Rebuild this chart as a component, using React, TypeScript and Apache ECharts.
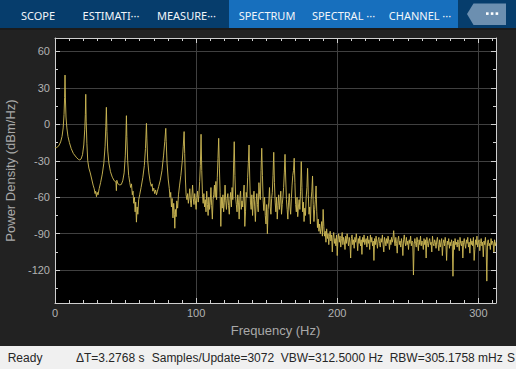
import React, { useEffect, useRef } from "react";
import * as echarts from "echarts";

// ---------- data ----------
const xMajorTicks = [0, 100, 200, 300];
const xMinorTicks = [10, 20, 30, 40, 50, 60, 70, 80, 90, 110, 120, 130, 140, 150, 160, 170, 180, 190, 210, 220, 230, 240, 250, 260, 270, 280, 290, 310];
const yMajorTicks = [-120, -90, -60, -30, 0, 30, 60];
const yMinorTicks = [-135, -105, -75, -45, -15, 15, 45];

const tabLabels = ["SCOPE", "ESTIMATI···", "MEASURE···", "SPECTRUM", "SPECTRAL ···", "CHANNEL ···"];
const statusItems = ["Ready", "ΔT=3.2768 s", "Samples/Update=3072", "VBW=312.5000 Hz", "RBW=305.1758 mHz", "S"];

// Harmonic region, irregular frequency points [Hz, dBm/Hz]
const harmonicPoints: [number, number][] = [
  [0, -19], [1, -19.2], [2, -18.5], [3, -17], [4, -14.5], [5, -10], [5.8, -3], [6.4, 8], [6.8, 22], [7.1, 40.5],
  [7.4, 20], [7.8, 6], [8.4, -3], [9.2, -10], [10.2, -15], [11.5, -20], [13, -24], [15, -27], [16.5, -28.8], [17.5, -29.3],
  [18.5, -28.5], [19.5, -25], [20.4, -17], [21.1, -4], [21.5, 8], [21.8, 24.7], [22.1, 2], [22.6, -16], [23.2, -30], [24, -36],
  [25, -40], [26, -45], [27, -50], [27.8, -53], [28.4, -57], [28.8, -55], [29.4, -59.5], [29.9, -56], [30.5, -58], [31.3, -53],
  [32.3, -48], [33.5, -41], [34.6, -32], [35.5, -18], [36, -2], [36.4, 14], [36.8, -6], [37.4, -22], [38.2, -32], [39.3, -39],
  [40.6, -43.5], [42, -46.5], [43.2, -47.5], [43.5, -54.6], [43.8, -46], [44.6, -49], [45.9, -49.9], [47, -49.5], [48, -46.5], [49, -40],
  [49.8, -26], [50.3, -8], [50.6, 7.1], [50.9, -10], [51.5, -30], [52.2, -42], [53, -48], [53.6, -52], [54.2, -49], [54.8, -58],
  [55.3, -55], [55.8, -65], [56.3, -60], [56.8, -72], [57.2, -64], [57.7, -80.5], [58.2, -68], [58.7, -74], [59.3, -62], [60, -58],
  [61, -52], [62.2, -44], [63.3, -34], [64.1, -20], [64.5, -8], [64.8, 0.8], [65.1, -12], [65.7, -30], [66.5, -40], [67.4, -47],
  [68.2, -51], [68.8, -49], [69.3, -55], [70, -52.5], [70.6, -57], [71.3, -54], [71.9, -58], [72.6, -55], [73.5, -51], [74.6, -46],
  [75.8, -38], [76.9, -26], [77.8, -14], [78.2, -8], [78.5, -3.3], [78.8, -14], [79.4, -32], [80.2, -45], [81, -53], [81.5, -60],
  [82, -56], [82.5, -68], [83, -61], [83.6, -77], [84.1, -65], [84.6, -74], [84.9, -85.5], [85.3, -70], [85.8, -76], [86.3, -63],
  [86.9, -69], [87.5, -58], [88.3, -50], [89.2, -42], [90.2, -30], [90.9, -18], [91.5, -6], [91.9, -24], [92.4, -45], [92.9, -58],
];

const binStep = 0.5; // Hz between listed bins below

// Upper harmonic + noise band, 93.5 Hz .. 190 Hz
const bandStartHz = 93.5;
const bandPower = [
  -62, -57, -65, -60, -53, -63, -68, -59, -50, -61,
  -66, -57, -63, -70, -60, -55, -64, -58, -47, -34,
  -8.2, -38, -58, -65, -57, -68, -62, -72, -55, -66,
  -75, -60, -70, -64, -52, -67, -78, -62, -58, -50,
  -60, -47, -62, -44, -28, -11.5, -36, -56, -84, -60,
  -69, -58, -72, -64, -50, -63, -70, -61, -57, -67,
  -74, -62, -56, -68, -52, -62, -36, -14.3, -42, -60,
  -66, -72, -58, -64, -78, -60, -55, -70, -63, -68,
  -59, -50, -84, -72, -56, -60, -44, -32, -17, -45,
  -64, -70, -58, -75, -62, -55, -68, -80, -64, -57,
  -66, -72, -48, -58, -62, -38, -19.7, -42, -63, -71,
  -60, -75, -82, -66, -90, -70, -64, -52, -68, -74,
  -61, -56, -42, -23, -48, -64, -72, -60, -78, -67,
  -58, -70, -63, -55, -74, -66, -60, -52, -40, -24.7,
  -45, -62, -70, -78, -64, -57, -68, -74, -61, -50,
  -42, -38, -27.9, -48, -66, -72, -60, -76, -68, -62,
  -70, -55, -30.7, -52, -72, -64, -80, -69, -75, -60,
  -52, -36.2, -58, -74, -68, -82, -62, -55, -42.5, -66,
  -80, -70, -62, -50.7, -72, -85, -78, -88, -82, -90,
  -86, -80, -92, -70,
];

// Noise floor, 190.5 Hz .. 312.5 Hz
const floorStartHz = 190.5;
const floorPower = [
  -84, -92, -88, -97, -86, -94, -90, -99, -92, -88,
  -96, -91, -105, -93, -89, -98, -94, -100, -91, -108,
  -95, -90, -97, -92, -101, -94, -89, -99, -93, -96,
  -103, -92, -98, -90, -95, -100, -93, -97, -110, -94,
  -91, -99, -95, -102, -93, -97, -90, -96, -104, -94,
  -98, -92, -100, -95, -107, -93, -97, -91, -99, -96,
  -94, -101, -92, -98, -95, -103, -91, -97, -93, -100,
  -96, -112, -94, -99, -92, -97, -102, -95, -93, -98,
  -101, -94, -97, -91, -99, -105, -93, -96, -100, -94,
  -98, -92, -96, -103, -95, -99, -93, -97, -94, -87.5,
  -96, -100, -93, -98, -106, -95, -92, -99, -96, -101,
  -94, -98, -108, -95, -91, -97, -100, -93, -99, -96,
  -103, -95, -98, -92, -100, -96, -97, -124, -99, -94,
  -98, -101, -93, -97, -104, -95, -99, -92, -100, -96,
  -97, -103, -94, -99, -95, -110, -93, -98, -101, -96,
  -94, -99, -97, -105, -92, -98, -100, -95, -97, -102,
  -96, -93, -99, -104, -95, -101, -97, -94, -108, -98,
  -95, -100, -93, -98, -112, -96, -99, -94, -102, -97,
  -100, -95, -98, -125, -96, -103, -94, -99, -97, -101,
  -95, -99, -104, -93, -98, -100, -96, -110, -97, -94,
  -99, -102, -95, -98, -93, -101, -97, -106, -94, -99,
  -96, -100, -93, -112, -103, -95, -99, -92, -101, -97,
  -95, -104, -98, -94, -100, -97, -109, -96, -99, -93,
  -101, -129, -97, -95, -100, -98, -103, -94, -99, -96,
  -98, -105, -95, -100, -97,
];

const xMin = 0;
const xMax = 312.5;
const yMin = -147;
const yMax = 71;

function buildSeriesData(): [number, number][] {
  const out: [number, number][] = harmonicPoints.map((p) => [p[0], p[1]] as [number, number]);
  bandPower.forEach((v, i) => out.push([bandStartHz + i * binStep, v]));
  floorPower.forEach((v, i) => out.push([floorStartHz + i * binStep, v]));
  return out;
}

export default function App() {
  const ref = useRef<HTMLDivElement>(null);

  useEffect(() => {
    if (!ref.current) return;
    const chart = echarts.init(ref.current, undefined, { renderer: "svg", width: 516, height: 369 });

    const boxColor = "#cfcfcf";
    const labelColor = "#b2b2b2";
    const gridLineColor = "#404040";
    const axisFont = "Liberation Sans, Arial, sans-serif";

    const xAxisBase = (position: string, ticks: number[], len: number, showLine: boolean) => ({
      type: "value",
      gridIndex: 0,
      min: xMin,
      max: xMax,
      position,
      axisLine: { show: showLine, onZero: false, lineStyle: { color: boxColor, width: 1 } },
      axisTick: { show: true, inside: true, length: len, customValues: ticks, lineStyle: { color: boxColor } },
      axisLabel: { show: false },
      splitLine: { show: false },
    });
    const yAxisBase = (position: string, ticks: number[], len: number, showLine: boolean) => ({
      type: "value",
      gridIndex: 0,
      min: yMin,
      max: yMax,
      position,
      axisLine: { show: showLine, onZero: false, lineStyle: { color: boxColor, width: 1 } },
      axisTick: { show: true, inside: true, length: len, customValues: ticks, lineStyle: { color: boxColor } },
      axisLabel: { show: false },
      splitLine: { show: false },
    });

    const tabCenters = [38, 111, 186.5, 267, 343.5, 420];
    const statusX = [7.7, 76, 151.7, 280.7, 389.7, 507];

    const graphics: any[] = [
      { type: "rect", shape: { x: 0, y: 0, width: 516, height: 28 }, style: { fill: "#063d6c" }, silent: true },
      { type: "rect", shape: { x: 229, y: 0, width: 229, height: 28 }, style: { fill: "#176fbd" }, silent: true },
      { type: "rect", shape: { x: 0, y: 28, width: 516, height: 2 }, style: { fill: "#1b1b1b" }, silent: true },
      {
        type: "polygon",
        shape: { points: [[467, 14], [473.5, 3.5], [506, 3.5], [506, 25], [473.5, 25]] },
        style: { fill: "#6c8fb0" },
        silent: true,
      },
      { type: "rect", shape: { x: 486, y: 12.3, width: 2.6, height: 2.6 }, style: { fill: "#ffffff" }, silent: true },
      { type: "rect", shape: { x: 490.8, y: 12.3, width: 2.6, height: 2.6 }, style: { fill: "#ffffff" }, silent: true },
      { type: "rect", shape: { x: 495.6, y: 12.3, width: 2.6, height: 2.6 }, style: { fill: "#ffffff" }, silent: true },
      { type: "rect", shape: { x: 0, y: 346, width: 516, height: 23 }, style: { fill: "#f0f0f0" }, silent: true },
    ];
    tabLabels.forEach((t, i) => {
      graphics.push({
        type: "text",
        x: tabCenters[i],
        y: 15,
        silent: true,
        style: {
          text: t,
          fill: "#f2f6fa",
          font: "11px 'Noto Sans', 'Open Sans', sans-serif",
          textAlign: "center",
          textVerticalAlign: "middle",
        },
      });
    });
    statusItems.forEach((t, i) => {
      graphics.push({
        type: "text",
        x: statusX[i],
        y: 357.7,
        silent: true,
        style: {
          text: t,
          fill: "#262626",
          font: "12px 'Liberation Sans', Arial, sans-serif",
          textAlign: "left",
          textVerticalAlign: "middle",
        },
      });
    });

    const mainX = {
      ...xAxisBase("bottom", xMajorTicks, 5, true),
      axisLabel: {
        show: true,
        customValues: xMajorTicks,
        color: labelColor,
        fontSize: 11,
        fontFamily: axisFont,
        margin: 4,
      },
      splitLine: { show: true, lineStyle: { color: gridLineColor, width: 1 } },
      name: "Frequency (Hz)",
      nameLocation: "middle",
      nameGap: 21,
      nameTextStyle: { color: "#a9a9a9", fontSize: 13, fontFamily: axisFont },
    };
    const mainY = {
      ...yAxisBase("left", yMajorTicks, 5, true),
      axisLabel: {
        show: true,
        customValues: yMajorTicks,
        color: labelColor,
        fontSize: 11,
        fontFamily: axisFont,
        margin: 5,
      },
      splitLine: { show: true, lineStyle: { color: gridLineColor, width: 1 } },
      name: "Power Density (dBm/Hz)",
      nameLocation: "middle",
      nameGap: 29,
      nameTextStyle: { color: "#a9a9a9", fontSize: 13, fontFamily: axisFont },
    };

    chart.setOption({
      animation: false,
      backgroundColor: "#222222",
      grid: {
        left: 55,
        right: 20,
        top: 38,
        bottom: 66,
        show: true,
        backgroundColor: "#000000",
        borderWidth: 0,
        containLabel: false,
        outerBoundsMode: "none",
      },
      xAxis: [
        mainX,
        xAxisBase("bottom", xMinorTicks, 3, false),
        xAxisBase("top", xMajorTicks, 5, true),
        xAxisBase("top", xMinorTicks, 3, false),
      ],
      yAxis: [
        mainY,
        yAxisBase("left", yMinorTicks, 3, false),
        yAxisBase("right", yMajorTicks, 5, true),
        yAxisBase("right", yMinorTicks, 3, false),
      ],
      series: [
        {
          type: "line",
          xAxisIndex: 0,
          yAxisIndex: 0,
          data: buildSeriesData(),
          showSymbol: false,
          symbol: "none",
          clip: true,
          silent: true,
          lineStyle: { color: "#cdb955", width: 1, opacity: 0.92 },
          z: 3,
        },
      ],
      graphic: graphics,
    });

    return () => {
      chart.dispose();
    };
  }, []);

  return (
    <div
      ref={ref}
      style={{ position: "fixed", left: 0, top: 0, width: 516, height: 369, margin: 0, padding: 0 }}
    />
  );
}
